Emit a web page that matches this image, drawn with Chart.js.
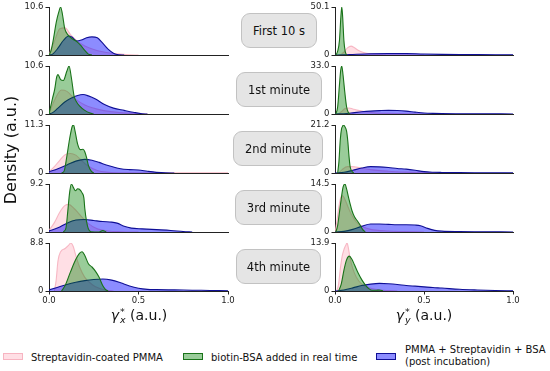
<!DOCTYPE html>
<html><head><meta charset="utf-8">
<script src="https://cdn.jsdelivr.net/npm/chart.js@4"></script>
<style>
body{margin:0;width:550px;height:371px;background:#fff;position:relative;overflow:hidden;font-family:"DejaVu Sans",sans-serif;color:#111;}
canvas.pc{position:absolute;}
.lbl{position:absolute;background:#e5e5e5;border:1px solid #c2c2c2;border-radius:9px;font-size:11.5px;color:#111;display:flex;align-items:center;justify-content:center;box-sizing:border-box;}
.ylab{position:absolute;left:10px;top:150px;transform:translate(-50%,-50%) rotate(-90deg);font-size:16px;white-space:nowrap;}
.xt{position:absolute;top:316px;transform:translate(-50%,-50%);font-size:14px;white-space:nowrap;}
.xt .g{font-style:italic;}
.xt .ss{display:inline-block;vertical-align:-0.35em;font-size:0.68em;line-height:0.85em;margin-left:1px;}
.xt .ss span{display:block;}
.xt .ss .sb{font-style:italic;}
.lg{position:absolute;font-size:10px;white-space:nowrap;line-height:11.5px;}
.patch{position:absolute;width:20px;height:7px;box-sizing:border-box;}
</style>
</head><body>
<script>
// ---------------- DATA (density curves, [x, density]) ----------------
const panelTitles = ["First 10 s", "1st minute", "2nd minute", "3rd minute", "4th minute"];
const seriesNames = ["Streptavidin-coated PMMA", "biotin-BSA added in real time", "PMMA + Streptavidin + BSA (post incubation)"];
const gxMax = [10.6, 10.6, 11.3, 9.2, 8.8];
const gyMax = [50.1, 33.0, 21.2, 14.5, 13.9];
const xTicks = [0, 0.5, 1.0];

// gamma_x*, rows 1..5
const gxPink1 = [[0,0],[0.03,3],[0.06,5.8],[0.09,6.0],[0.12,4.5],[0.16,3],[0.2,2],[0.25,1.2],[0.3,0.7],[0.35,0.4],[0.4,0.2],[0.45,0.05],[0.5,0]];
const gxGreen1 = [[0,0],[0.01,0.8],[0.022,2.9],[0.041,7.3],[0.054,9.4],[0.065,10.6],[0.075,9.0],[0.088,5.8],[0.107,4.4],[0.13,3.6],[0.16,2.8],[0.18,2.0],[0.2,1.0],[0.22,0.2],[0.24,0]];
const gxBlue1 = [[0,0],[0.02,0.2],[0.05,1.5],[0.08,3.2],[0.11,4.2],[0.13,3.9],[0.155,3.1],[0.18,3.3],[0.21,3.8],[0.24,4.0],[0.27,3.8],[0.3,2.6],[0.33,1.3],[0.36,0.4],[0.39,0.05],[0.42,0]];

const gxPink2 = [[0,0],[0.03,3],[0.07,5.3],[0.1,5.0],[0.14,3.5],[0.2,2],[0.3,0.8],[0.4,0.3],[0.5,0.05],[0.55,0]];
const gxGreen2 = [[0,0],[0.02,3.5],[0.032,5.5],[0.043,8.2],[0.05,8.7],[0.065,7.6],[0.08,7.4],[0.1,9.5],[0.112,10.6],[0.125,8.0],[0.14,4.0],[0.155,2.6],[0.17,1.8],[0.2,0.8],[0.23,0.2],[0.25,0]];
const gxBlue2 = [[0,0],[0.02,0.3],[0.05,1.3],[0.09,2.7],[0.13,3.6],[0.16,4.1],[0.19,4.3],[0.22,4.0],[0.26,3.3],[0.31,2.1],[0.36,1.3],[0.42,0.8],[0.47,0.4],[0.52,0.05],[0.55,0]];

const gxPink3 = [[0,0.3],[0.03,1.5],[0.06,3.0],[0.09,4.3],[0.12,4.6],[0.15,4.2],[0.18,3.0],[0.22,1.6],[0.27,0.6],[0.32,0.2],[0.4,0.05],[0.5,0.02],[0.9,0.05],[1.0,0.05]];
const gxGreen3 = [[0.07,0],[0.085,0.5],[0.1,4],[0.115,8],[0.13,11.0],[0.137,11.3],[0.145,10],[0.16,6.8],[0.175,5.5],[0.19,5.6],[0.2,5.0],[0.21,3.6],[0.22,1.8],[0.235,0.5],[0.25,0]];
const gxBlue3 = [[0,0.3],[0.05,1.0],[0.1,1.9],[0.15,2.8],[0.2,3.2],[0.24,3.0],[0.28,2.5],[0.32,1.9],[0.36,1.4],[0.4,1.0],[0.45,0.8],[0.5,0.7],[0.55,0.4],[0.6,0.15],[0.65,0.02],[0.7,0]];

const gxPink4 = [[0,0.3],[0.03,1.8],[0.06,3.8],[0.09,5.1],[0.11,5.3],[0.14,4.5],[0.18,3.0],[0.22,1.6],[0.27,0.6],[0.33,0.2],[0.4,0.05],[0.5,0]];
const gxGreen4 = [[0.08,0],[0.095,0.8],[0.105,4],[0.115,7.5],[0.125,9.2],[0.135,8.6],[0.148,7.9],[0.16,8.3],[0.17,8.2],[0.185,7.5],[0.195,6.5],[0.2,4.5],[0.21,2.0],[0.22,0.6],[0.235,0.05],[0.28,0],[0.3,0.3],[0.32,0]];
const gxBlue4 = [[0,0.2],[0.05,0.8],[0.1,1.7],[0.15,2.3],[0.2,2.4],[0.25,2.2],[0.3,2.0],[0.35,1.9],[0.38,1.7],[0.42,1.1],[0.46,0.75],[0.52,0.6],[0.6,0.45],[0.68,0.3],[0.75,0.1],[0.8,0]];

const gxPink5 = [[0.03,0],[0.04,2.0],[0.05,5.5],[0.065,7.2],[0.09,7.8],[0.11,8.4],[0.122,8.8],[0.135,8.2],[0.15,6.5],[0.17,4.5],[0.2,2.5],[0.24,1.2],[0.28,0.5],[0.32,0.15],[0.36,0]];
const gxGreen5 = [[0.07,0],[0.09,1.0],[0.12,3.5],[0.15,5.8],[0.17,6.9],[0.185,7.2],[0.2,6.5],[0.22,5.0],[0.24,4.4],[0.26,3.6],[0.28,2.5],[0.3,1.0],[0.315,0.3],[0.33,0]];
const gxBlue5 = [[0,0.2],[0.05,0.7],[0.1,1.2],[0.15,1.6],[0.2,1.9],[0.25,2.1],[0.3,2.2],[0.35,2.0],[0.4,1.5],[0.45,0.9],[0.5,0.5],[0.55,0.3],[0.6,0.25],[0.7,0.2],[0.8,0.15],[0.9,0.1],[1.0,0.05]];

// gamma_y*, rows 1..5
const gyPink1 = [[0.03,0],[0.05,3],[0.07,7.5],[0.09,9.3],[0.11,7.5],[0.13,5],[0.16,2.7],[0.2,1.2],[0.25,0.5],[0.3,0.3],[0.4,0.1],[0.5,0]];
const gyGreen1 = [[0.005,0],[0.015,4],[0.025,15],[0.033,40],[0.038,50.1],[0.043,40],[0.05,15],[0.057,4],[0.065,0]];
const gyBlue1 = [[0,0],[0.05,0.2],[0.1,0.6],[0.2,1.3],[0.3,1.6],[0.4,1.5],[0.5,1.0],[0.6,0.7],[0.7,0.5],[0.8,0.4],[0.9,0.3],[1.0,0.2]];

const gyPink2 = [[0.02,0],[0.04,2],[0.06,4],[0.08,4.1],[0.1,3.5],[0.13,2.5],[0.17,1.5],[0.22,0.8],[0.3,0.4],[0.4,0.2],[0.5,0]];
const gyGreen2 = [[0.005,0],[0.015,5],[0.025,20],[0.032,30],[0.038,33.0],[0.045,27],[0.055,15],[0.065,5],[0.075,1],[0.085,0]];
const gyBlue2 = [[0,0],[0.05,0.2],[0.1,0.8],[0.15,1.5],[0.2,2.0],[0.25,2.3],[0.3,2.5],[0.35,2.4],[0.4,2.0],[0.45,1.3],[0.5,0.7],[0.55,0.4],[0.6,0.25],[0.7,0.15],[0.8,0.1],[1.0,0.05]];

const gyPink3 = [[0.02,0],[0.04,1.5],[0.07,2.8],[0.1,2.8],[0.14,2.3],[0.2,1.5],[0.3,0.8],[0.4,0.4],[0.5,0.15],[0.6,0]];
const gyGreen3 = [[0.015,0],[0.022,5],[0.03,15],[0.037,19.6],[0.042,20.5],[0.047,21.2],[0.055,20.5],[0.065,18.5],[0.072,14],[0.078,8],[0.085,2.8],[0.095,0.8],[0.105,0]];
const gyBlue3 = [[0,0],[0.05,0.3],[0.1,1.2],[0.15,2.2],[0.2,2.8],[0.25,2.7],[0.3,2.4],[0.35,2.0],[0.4,1.7],[0.45,1.2],[0.5,0.6],[0.55,0.35],[0.6,0.25],[0.7,0.15],[0.8,0.1],[0.9,0.07],[1.0,0.05]];

const gyPink4 = [[0,0],[0.01,3],[0.02,7],[0.03,10],[0.04,11],[0.05,10.5],[0.07,8],[0.09,5.5],[0.12,3],[0.16,1.5],[0.2,0.8],[0.3,0.3],[0.4,0.1],[0.5,0]];
const gyGreen4 = [[0.005,0],[0.015,2],[0.025,6],[0.035,10],[0.045,13.5],[0.056,14.5],[0.065,13],[0.075,10.7],[0.085,8.5],[0.095,6.5],[0.11,4.5],[0.125,3.4],[0.14,2.2],[0.155,0.8],[0.17,0]];
const gyBlue4 = [[0,0],[0.05,0.2],[0.1,0.8],[0.15,1.7],[0.2,2.4],[0.25,2.4],[0.3,2.3],[0.35,2.2],[0.4,2.2],[0.45,2.1],[0.48,1.9],[0.52,1.1],[0.56,0.5],[0.6,0.25],[0.7,0.1],[0.8,0.05],[1.0,0.02]];

const gyPink5 = [[0.01,0],[0.02,2],[0.03,6.5],[0.04,10],[0.05,12],[0.06,13.2],[0.068,13.9],[0.075,12.5],[0.085,9.5],[0.1,6.5],[0.12,4],[0.15,2],[0.2,0.8],[0.25,0.3],[0.3,0.1],[0.35,0]];
const gyGreen5 = [[0.02,0],[0.035,2],[0.05,6],[0.065,9],[0.08,10.1],[0.095,9.2],[0.11,7.5],[0.13,5.2],[0.15,3.3],[0.17,1.8],[0.19,0.7],[0.21,0.2],[0.23,0.2],[0.25,0.3],[0.27,0]];
const gyBlue5 = [[0,0],[0.05,0.3],[0.1,0.9],[0.15,1.6],[0.2,2.0],[0.25,2.2],[0.3,2.1],[0.35,1.9],[0.4,1.6],[0.45,1.4],[0.5,1.2],[0.55,1.0],[0.6,0.85],[0.7,0.5],[0.8,0.3],[0.9,0.15],[1.0,0.05]];

const gxSeries = [[gxPink1,gxGreen1,gxBlue1],[gxPink2,gxGreen2,gxBlue2],[gxPink3,gxGreen3,gxBlue3],[gxPink4,gxGreen4,gxBlue4],[gxPink5,gxGreen5,gxBlue5]];
const gySeries = [[gyPink1,gyGreen1,gyBlue1],[gyPink2,gyGreen2,gyBlue2],[gyPink3,gyGreen3,gyBlue3],[gyPink4,gyGreen4,gyBlue4],[gyPink5,gyGreen5,gyBlue5]];

// ---------------- STYLE / LAYOUT ----------------
const FONT = '"DejaVu Sans", sans-serif';
const styles = [
  {fill:'rgba(255,192,203,0.5)', line:'rgba(245,170,185,0.8)', order:2},
  {fill:'rgba(0,128,0,0.4)', line:'rgb(25,115,25)', order:0},
  {fill:'rgba(0,0,255,0.45)', line:'rgb(15,15,150)', order:1}
];
const rowTops = [7, 66, 125, 184, 243];
const rowH = 48;
const cols = [
  {canvasLeft:0, plotLeft:49, plotRight:228, series:gxSeries, maxes:gxMax},
  {canvasLeft:300, plotLeft:335, plotRight:513, series:gySeries, maxes:gyMax}
];

function makePanel(col, row) {
  const last = row === 4;
  const padT = 8, padR = 8, padB = 8;
  const xH = last ? 17 : 0;
  const w = col.plotRight + padR - col.canvasLeft;
  const h = padT + rowH + xH + padB;
  const cv = document.createElement('canvas');
  cv.className = 'pc';
  cv.width = w; cv.height = h;
  cv.style.width = w + 'px'; cv.style.height = h + 'px';
  cv.style.left = col.canvasLeft + 'px';
  cv.style.top = (rowTops[row] - padT) + 'px';
  document.body.appendChild(cv);
  const yMax = col.maxes[row];
  const data = col.series[row];
  new Chart(cv, {
    type: 'line',
    data: {
      datasets: data.map((pts, i) => ({
        label: seriesNames[i],
        data: pts.map(p => ({x: p[0], y: p[1]})),
        fill: 'origin',
        backgroundColor: styles[i].fill,
        borderColor: styles[i].line,
        borderWidth: 1.1,
        pointRadius: 0,
        cubicInterpolationMode: 'monotone',
        order: styles[i].order
      }))
    },
    options: {
      responsive: false,
      animation: false,
      events: [],
      layout: {padding: {top: padT, right: padR, bottom: padB, left: 0}},
      plugins: {legend: {display: false}, tooltip: {enabled: false}},
      scales: {
        x: {
          type: 'linear', min: 0, max: 1,
          afterBuildTicks: s => { s.ticks = xTicks.map(v => ({value: v})); },
          afterFit: s => { s.height = xH; },
          ticks: {display: last, font: {family: FONT, size: 8.5}, color: '#222', padding: 1, maxRotation: 0,
                  callback: v => Number(v).toFixed(1)},
          grid: {drawOnChartArea: false, drawTicks: last, tickLength: 3.5, color: '#222'},
          border: {display: true, color: '#222', width: 1}
        },
        y: {
          min: 0, max: yMax,
          afterBuildTicks: s => { s.ticks = [{value: 0}, {value: yMax}]; },
          afterFit: s => { s.width = col.plotLeft - col.canvasLeft; },
          ticks: {font: {family: FONT, size: 8.5}, color: '#222', padding: 2,
                  callback: v => (v === 0 ? '0' : Number(v).toFixed(1))},
          grid: {drawOnChartArea: false, drawTicks: true, tickLength: 3.5, color: '#222'},
          border: {display: true, color: '#222', width: 1}
        }
      }
    }
  });
}
cols.forEach(c => rowTops.forEach((t, r) => makePanel(c, r)));

// panel labels
const boxes = [[241,13,76,35],[236,72,86,35],[233,131,90,35],[235,190,87,35],[236,249,85,35]];
panelTitles.forEach((t, i) => {
  const d = document.createElement('div');
  d.className = 'lbl';
  const b = boxes[i];
  d.style.left = b[0] + 'px'; d.style.top = b[1] + 'px'; d.style.width = b[2] + 'px'; d.style.height = b[3] + 'px';
  d.textContent = t;
  document.body.appendChild(d);
});
</script>
<div class="ylab">Density (a.u.)</div>
<div class="xt" style="left:139px"><span class="g">γ</span><span class="ss"><span>*</span><span class="sb">x</span></span> (a.u.)</div>
<div class="xt" style="left:424px"><span class="g">γ</span><span class="ss"><span>*</span><span class="sb">y</span></span> (a.u.)</div>

<div class="patch" style="left:3px;top:353px;background:rgba(255,192,203,0.5);border:1px solid rgba(245,170,185,0.8)"></div>
<div class="lg" style="left:31px;top:352px">Streptavidin-coated PMMA</div>
<div class="patch" style="left:183px;top:353px;background:rgba(0,128,0,0.4);border:1px solid rgb(25,115,25)"></div>
<div class="lg" style="left:211px;top:352px">biotin-BSA added in real time</div>
<div class="patch" style="left:376px;top:353px;background:rgba(0,0,255,0.45);border:1px solid rgb(15,15,150)"></div>
<div class="lg" style="left:405px;top:344px">PMMA + Streptavidin + BSA<br>(post incubation)</div>
</body></html>
